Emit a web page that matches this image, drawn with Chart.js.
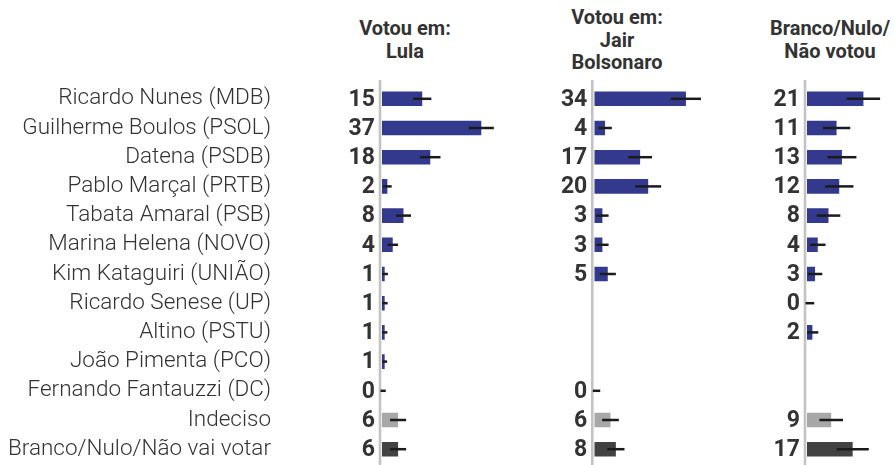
<!DOCTYPE html>
<html>
<head>
<meta charset="utf-8">
<script src="https://cdn.jsdelivr.net/npm/chart.js@4"></script>
<style>
  body { margin: 0; background: #fff; }
  #wrap { position: relative; width: 894px; height: 465px; overflow: hidden; background: #fff; }
  canvas { position: absolute; top: 0; }
  .title {
    position: absolute; width: 180px; text-align: center;
    font-family: Roboto, sans-serif; font-weight: 700; font-size: 20px;
    line-height: 22.5px; color: #333;
  }
</style>
</head>
<body>
<div id="wrap">
  <div class="title" id="t1" style="left:315px; top:17px;">Votou em:<br>Lula</div>
  <div class="title" id="t2" style="left:527px; top:6px;">Votou em:<br>Jair<br>Bolsonaro</div>
  <div class="title" id="t3" style="left:740px; top:17px;">Branco/Nulo/<br>Não votou</div>
  <canvas id="c1"></canvas>
  <canvas id="c2"></canvas>
  <canvas id="c3"></canvas>
</div>
<script>
// categories (rows)
const categories = [
  "Ricardo Nunes (MDB)", "Guilherme Boulos (PSOL)", "Datena (PSDB)",
  "Pablo Marçal (PRTB)", "Tabata Amaral (PSB)", "Marina Helena (NOVO)",
  "Kim Kataguiri (UNIÃO)", "Ricardo Senese (UP)", "Altino (PSTU)",
  "João Pimenta (PCO)", "Fernando Fantauzzi (DC)", "Indeciso",
  "Branco/Nulo/Não vai votar"
];

// Votou em: Lula
const lulaValues = [15, 37, 18, 2, 8, 4, 1, 1, 1, 1, 0, 6, 6];
const lulaErrors = [3.4, 4.7, 3.8, 1.6, 2.8, 2.0, 1.2, 1.1, 1.0, 0.9, 1.4, 3.0, 3.0];

// Votou em: Jair Bolsonaro
const bolsoValues = [34, 4, 17, 20, 3, 3, 5, null, null, null, 0, 6, 8];
const bolsoErrors = [5.6, 2.5, 4.4, 4.8, 2.3, 2.3, 3.0, null, null, null, 2.2, 3.1, 3.2];

// Branco/Nulo/Não votou
const brancoValues = [21, 11, 13, 12, 8, 4, 3, 0, 2, null, null, 9, 17];
const brancoErrors = [6.2, 5.1, 5.4, 5.3, 4.4, 2.9, 2.7, 2.7, 2.2, null, null, 4.4, 6.0];

const NAVY = "#333a8d";
const barColors = categories.map((c, i) =>
  i === categories.length - 2 ? "#a7a7a7" : i === categories.length - 1 ? "#424242" : NAVY);

const H = 465;
const PX_PER_UNIT = 2.68;

// draws the grey zero line, error bars and value labels
const marksPlugin = {
  id: "marks",
  beforeDatasetsDraw(chart) {
    const ctx = chart.ctx;
    const x0 = chart.scales.x.getPixelForValue(0);
    ctx.save();
    ctx.strokeStyle = "#c3c3c3";
    ctx.lineWidth = 2.6;
    ctx.beginPath();
    ctx.moveTo(x0 - 2, 80);
    ctx.lineTo(x0 - 2, chart.height);
    ctx.stroke();
    ctx.restore();
  },
  afterDatasetsDraw(chart, args, opts) {
    const ctx = chart.ctx;
    const xs = chart.scales.x, ys = chart.scales.y;
    const vals = opts.values, errs = opts.errors;
    const x0 = xs.getPixelForValue(0);
    ctx.save();
    vals.forEach((v, i) => {
      if (v === null) return;
      const y = ys.getPixelForValue(i);
      const e = errs[i];
      ctx.strokeStyle = "#1b1b1b";
      ctx.lineWidth = 2.5;
      ctx.beginPath();
      // zero rows: the dash starts on the grey line
      ctx.moveTo(v === 0 ? x0 - 1.5 : xs.getPixelForValue(Math.max(0, v - e)), y);
      ctx.lineTo(xs.getPixelForValue(v + e), y);
      ctx.stroke();

      ctx.fillStyle = "#333";
      ctx.font = "bold 23px Roboto";
      ctx.textAlign = "right";
      ctx.textBaseline = "middle";
      ctx.fillText(String(v), x0 - 7, y + 1);
    });
    ctx.restore();
  }
};

function makePanel(id, values, errors, left, axisX, max, showLabels) {
  const canvas = document.getElementById(id);
  const padLeft = showLabels ? 0 : axisX - left;
  canvas.width = Math.ceil(axisX - left + max * PX_PER_UNIT);
  canvas.height = H;
  canvas.style.left = left + "px";

  const yScale = {
    display: showLabels,
    grid: { display: false, drawTicks: false },
    border: { display: false },
    ticks: {
      autoSkip: false,
      color: "#333",
      padding: axisX - 271,
      font: { family: "Roboto", weight: "300", size: 22.5 }
    }
  };
  if (showLabels) {
    // fixed label column, and no extra vertical padding from the big tick gap
    yScale.afterFit = (scale) => {
      scale.width = axisX - left;
      scale.paddingTop = 0;
      scale.paddingBottom = 0;
    };
  }

  return new Chart(canvas, {
    type: "bar",
    data: {
      labels: categories,
      datasets: [{
        data: values,
        backgroundColor: barColors,
        categoryPercentage: 1,
        barPercentage: 0.5
      }]
    },
    options: {
      indexAxis: "y",
      responsive: false,
      animation: false,
      layout: { padding: { top: 84.2, bottom: 1.2, left: padLeft, right: 0 } },
      plugins: {
        legend: { display: false },
        tooltip: { enabled: false },
        marks: { values: values, errors: errors }
      },
      scales: {
        x: { display: false, min: 0, max: max },
        y: yScale
      }
    },
    plugins: [marksPlugin]
  });
}

makePanel("c1", lulaValues, lulaErrors, 0, 382, 60, true);
makePanel("c2", bolsoValues, bolsoErrors, 545, 594.3, 60, false);
makePanel("c3", brancoValues, brancoErrors, 757, 807, 33.5, false);
</script>
</body>
</html>
